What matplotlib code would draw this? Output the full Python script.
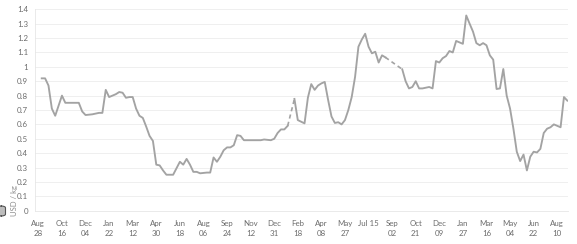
import matplotlib
matplotlib.use("Agg")
import matplotlib.pyplot as plt
import matplotlib.patches as patches
import pandas as pd

# weekly price series, weeks counted from Saturday 2021-08-28
start = pd.Timestamp("2021-08-28")

seg1_weeks = [1, 2, 3, 4, 5, 7, 8, 12, 13, 14, 16, 18, 19, 20, 21, 22, 23, 24, 25, 26,
              27, 28, 29, 30, 31, 32, 33, 34, 35, 36, 37, 38, 40, 42, 43, 44, 45, 46, 47, 48,
              50, 51, 52, 53, 54, 55, 56, 57, 58, 59, 60, 61, 62, 66, 67, 69, 70, 71, 72, 73, 74]
seg1_vals = [0.92, 0.92, 0.87, 0.71, 0.66, 0.80, 0.75, 0.75, 0.69, 0.665, 0.67, 0.68, 0.68, 0.84,
             0.79, 0.80, 0.81, 0.825, 0.82, 0.785, 0.79, 0.79, 0.71, 0.66, 0.645, 0.585, 0.52,
             0.485, 0.32, 0.315, 0.28, 0.25, 0.25, 0.34, 0.32, 0.36, 0.32, 0.27, 0.27, 0.26,
             0.265, 0.265, 0.37, 0.34, 0.375, 0.42, 0.44, 0.44, 0.455, 0.525, 0.52, 0.49, 0.49,
             0.49, 0.495, 0.49, 0.50, 0.54, 0.565, 0.565, 0.59]

seg2_weeks = [76, 77, 79, 80, 81, 82, 83, 84, 85, 86, 87, 88, 89, 90, 91, 92, 93, 94, 95, 96,
              97, 98, 99, 100, 101, 102, 103]
seg2_vals = [0.777, 0.63, 0.607, 0.786, 0.88, 0.84, 0.87, 0.885, 0.895, 0.77, 0.655, 0.61, 0.615,
             0.60, 0.63, 0.70, 0.79, 0.93, 1.14, 1.19, 1.23, 1.14, 1.094, 1.105, 1.03, 1.08, 1.066]

seg3_weeks = [108, 109, 110, 111, 112, 113, 114, 116, 117, 118, 119, 120, 121, 122, 123, 124,
              125, 126, 127, 128, 129, 130, 131, 132, 133, 134, 135, 136, 137, 138, 139, 140,
              141, 142, 143, 144, 145, 146, 147, 148, 149, 150, 151, 152, 153, 154, 155, 156, 157]
seg3_vals = [0.983, 0.90, 0.85, 0.86, 0.90, 0.85, 0.85, 0.86, 0.85, 1.04, 1.03, 1.06, 1.075, 1.11,
             1.10, 1.18, 1.17, 1.16, 1.357, 1.30, 1.245, 1.165, 1.15, 1.165, 1.15, 1.08, 1.05,
             0.846, 0.85, 0.985, 0.80, 0.71, 0.57, 0.41, 0.345, 0.39, 0.28, 0.375, 0.41, 0.405,
             0.43, 0.54, 0.57, 0.58, 0.60, 0.59, 0.58, 0.79, 0.765]

y_ticks = [0, 0.1, 0.2, 0.3, 0.4, 0.5, 0.6, 0.7, 0.8, 0.9, 1, 1.1, 1.2, 1.3, 1.4]
y_label = "USD / kg"


def to_dates(weeks):
    return [start + pd.Timedelta(weeks=w) for w in weeks]


segments = [(seg1_weeks, seg1_vals), (seg2_weeks, seg2_vals), (seg3_weeks, seg3_vals)]

line_color = "#a3a3a3"
text_color = "#6b6b6b"
plt.rcParams["font.family"] = ["Lato", "DejaVu Sans"]

fig = plt.figure(figsize=(5.77, 2.44), dpi=100)
ax = fig.add_axes([35 / 577, 1 - 210.7 / 244, (568 - 35) / 577, (210.7 - 9.3) / 244])

for weeks, vals in segments:
    ax.plot(to_dates(weeks), vals, color=line_color, lw=1.35, solid_joinstyle="round")

# dashed connectors over the missing weeks
for (w_a, v_a), (w_b, v_b) in zip(segments[:-1], segments[1:]):
    ax.plot(to_dates([w_a[-1], w_b[0]]), [v_a[-1], v_b[0]], color=line_color, lw=1.2,
            ls=(0, (2.5, 2)))

ax.set_ylim(0, 1.4)
ax.set_yticks(y_ticks)
ax.set_yticklabels([f"{v:g}" for v in y_ticks])
ax.set_xlim(start - pd.Timedelta(weeks=1), start + pd.Timedelta(weeks=157.2))

tick_dates = pd.date_range(start, start + pd.Timedelta(weeks=157), freq="49D")
ax.set_xticks(tick_dates)
labels = []
for d in tick_dates:
    if d.month == 7 and d.day == 15:
        labels.append(d.strftime("%b %d"))
    else:
        labels.append(d.strftime("%b\n%d"))
ax.set_xticklabels(labels, va="top", linespacing=1.45)

ax.grid(axis="y", color="#ececec", lw=0.6)
ax.set_axisbelow(True)
for side in ["top", "right"]:
    ax.spines[side].set_visible(False)
for side in ["left", "bottom"]:
    ax.spines[side].set_color("#e6e6e6")
    ax.spines[side].set_linewidth(0.6)
ax.tick_params(axis="both", length=0, labelsize=5.7, labelcolor=text_color)
ax.tick_params(axis="x", pad=7)
ax.tick_params(axis="y", pad=5)

fig.text(14 / 577, 1 - 200 / 244, y_label, rotation=90, ha="center", va="center",
         fontsize=5.5, color="#8a8a8a")

# small button at the left edge
btn = patches.FancyBboxPatch((-3 / 577, 1 - 216 / 244), 8.5 / 577, 10 / 244,
                             boxstyle="round,pad=0,rounding_size=0.008",
                             transform=fig.transFigure, facecolor="#bdbdbd",
                             edgecolor="#555555", lw=0.8)
fig.patches.append(btn)

fig.savefig("out.png", dpi=100)
